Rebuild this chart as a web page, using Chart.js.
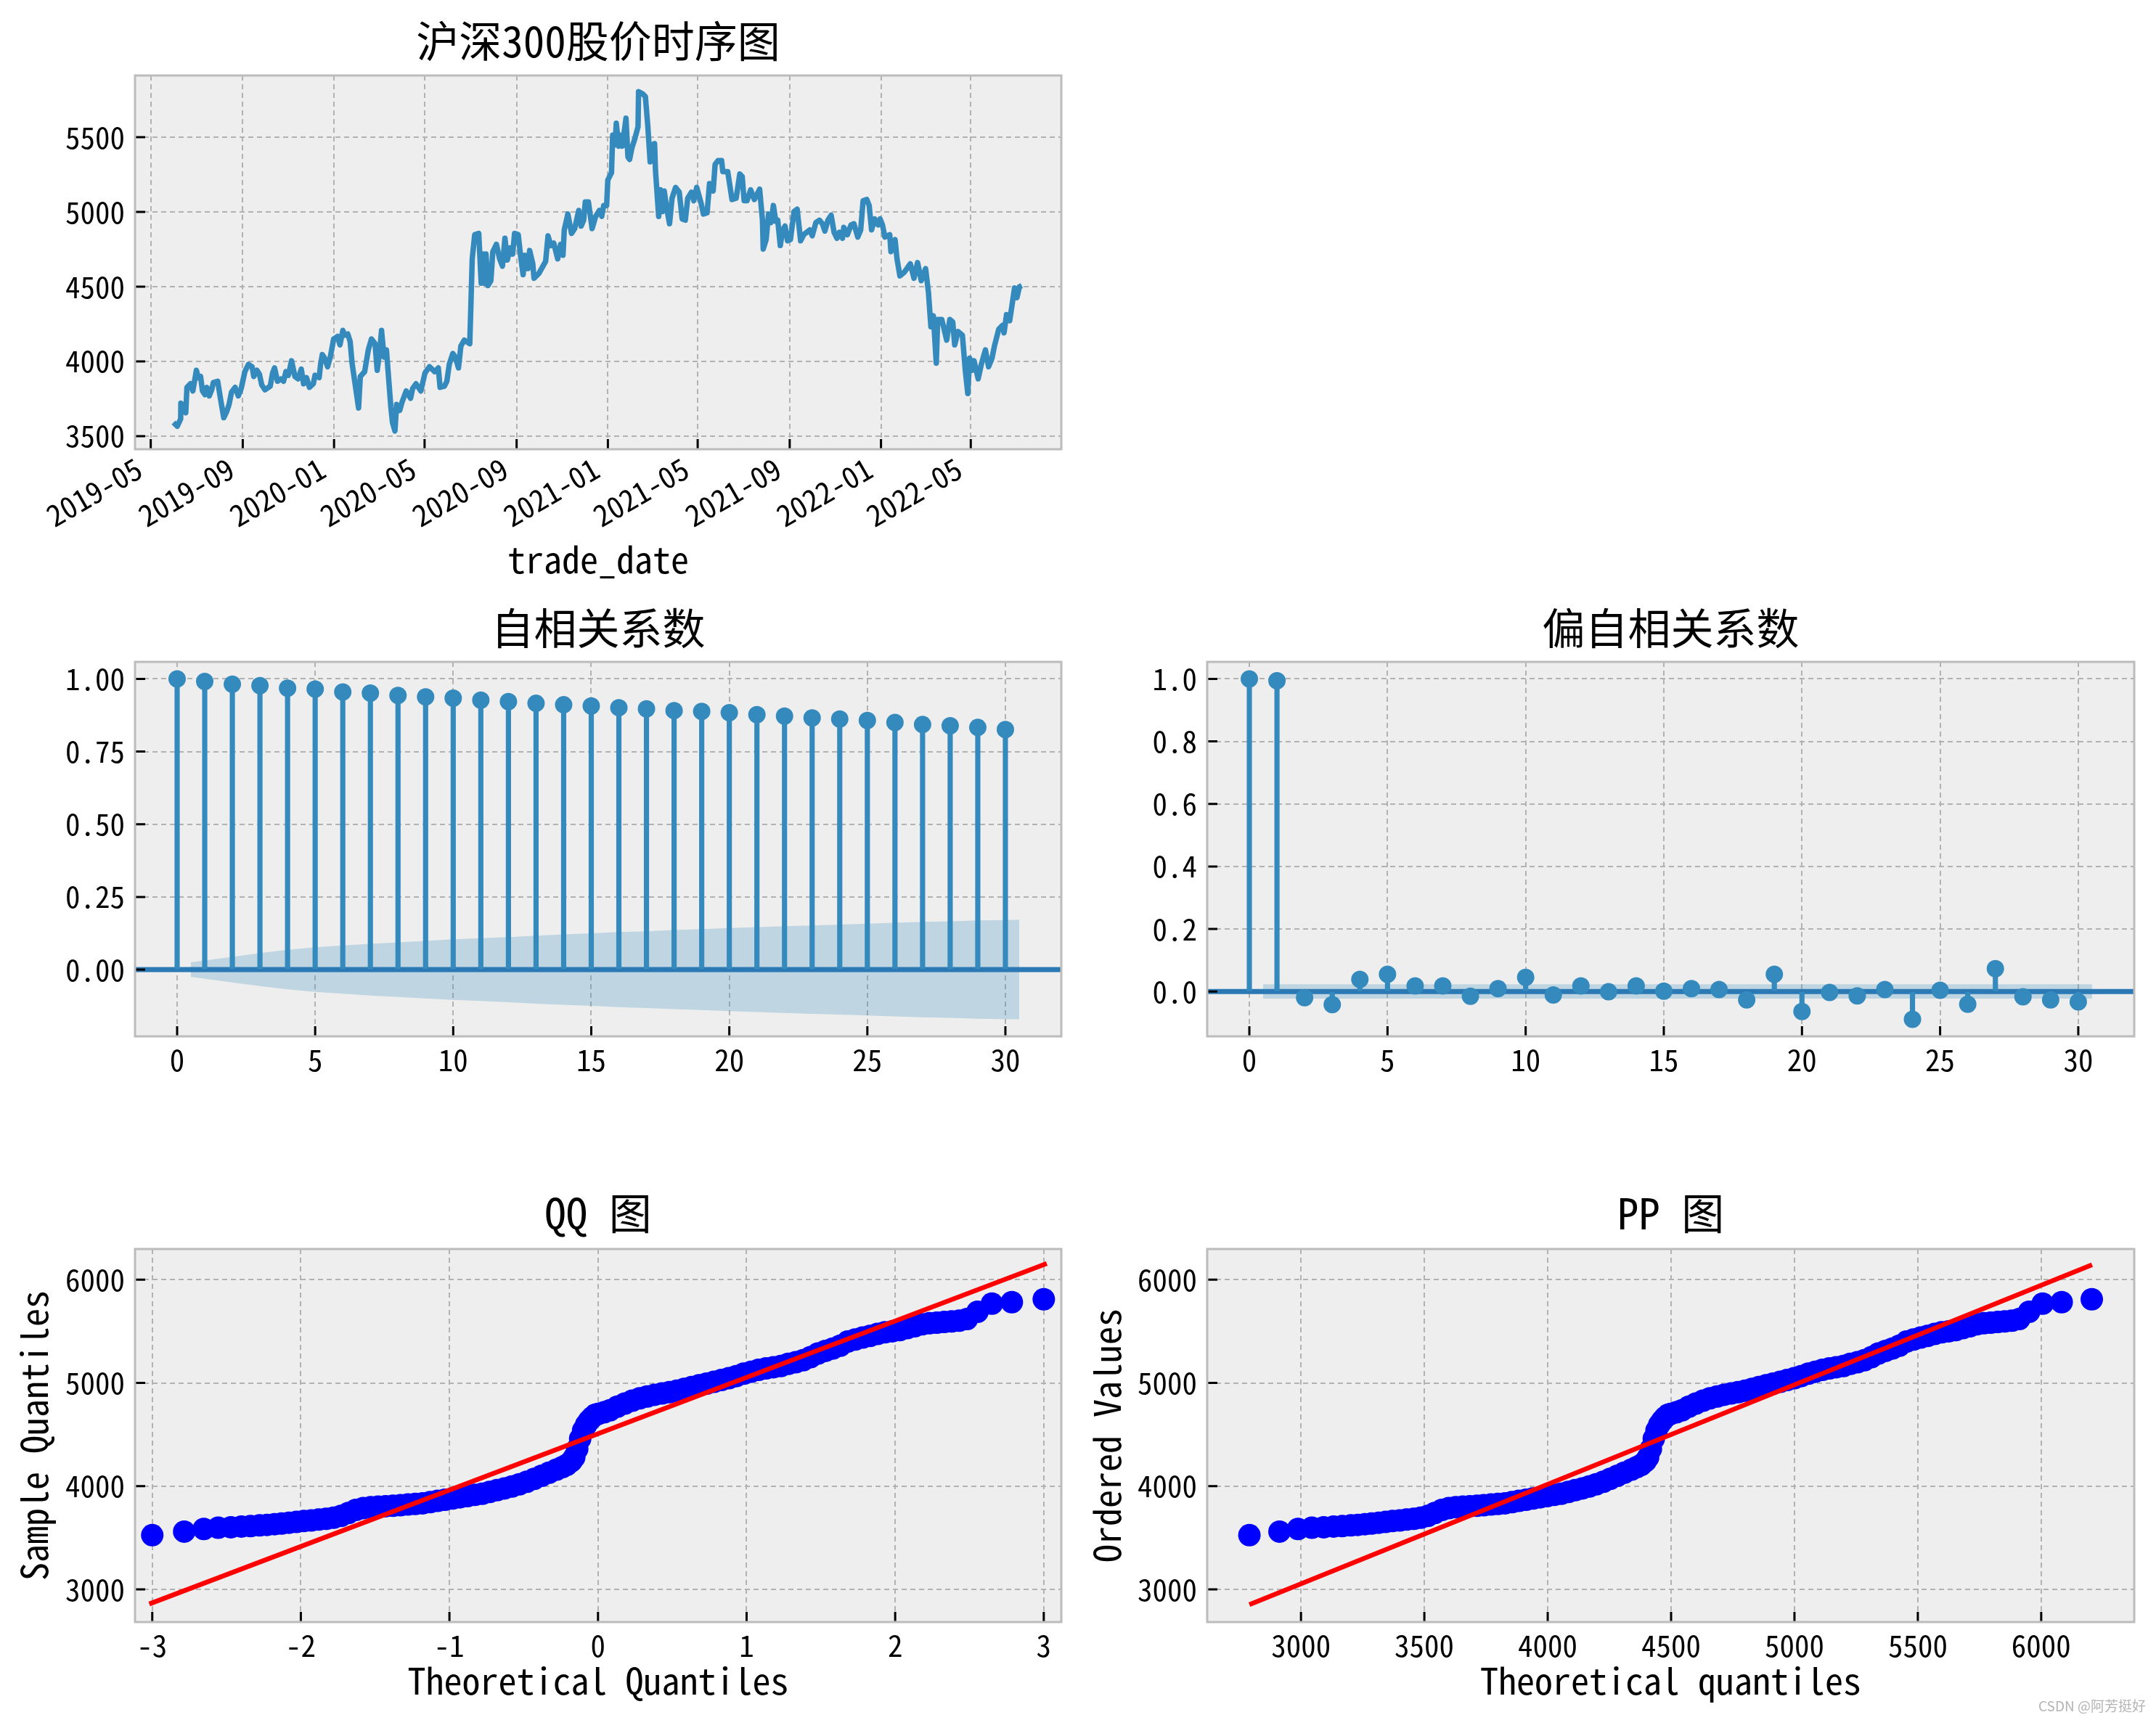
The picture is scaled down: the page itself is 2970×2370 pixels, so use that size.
<!DOCTYPE html>
<html>
<head>
<meta charset="utf-8">
<script src="https://cdn.jsdelivr.net/npm/chart.js@4.4.0/dist/chart.umd.min.js"></script>
<style>
  html, body { margin: 0; padding: 0; background: #fff; }
  body { width: 2970px; height: 2370px; position: relative; overflow: hidden; }
  canvas { position: absolute; }
  #marca { position: absolute; right: 14px; top: 2336px; font: 19px "Noto Sans CJK SC", sans-serif; color: #b4b4b4; }
</style>
</head>
<body>
<canvas id="cSerie" width="1500" height="830" style="left:0;top:0"></canvas>
<canvas id="cAcf" width="1500" height="700" style="left:0;top:780px"></canvas>
<canvas id="cPacf" width="1490" height="700" style="left:1480px;top:780px"></canvas>
<canvas id="cQQ" width="1500" height="810" style="left:0;top:1560px"></canvas>
<canvas id="cPP" width="1490" height="810" style="left:1480px;top:1560px"></canvas>
<div id="marca">CSDN @阿芳挺好</div>
<script>
// 1. DADOS
// Série do índice: dias contados a partir de 2019-05-01
const diasSerie = [30.4, 35.5, 40, 40.3, 43.5, 46.8, 48.4, 53, 56.3, 61, 63.5, 66.6, 69.2, 72.4, 75, 78.2, 81.5, 83.7, 89.5, 93.4,
  97.6, 101.5, 104.7, 108, 112.8, 117, 120.9, 125.8, 130.6, 135.5, 137.7, 142, 145.2, 148.4, 152.6, 159.7, 162.9, 165.5, 169.4, 174.3,
  177.5, 180.7, 184, 188.2, 192.7, 196.9, 201.2, 204.3, 208.2, 212.1, 217.3, 219.6, 225.1, 227, 229.3, 232.5, 236.4, 240, 244.5, 249.7,
  252.9, 256.8, 259.4, 263.3, 266.5, 269.1, 277.8, 280.1, 285.9, 290.8, 295, 299.8, 302.7, 306, 308.5, 311.8, 315, 320.9, 323.1, 326.4,
  328.6, 332.8, 336, 341.5, 347.3, 350, 354.5, 361, 366.6, 372.5, 379.6, 384.4, 386.7, 392.5, 395.8, 399, 403.8, 407.1, 411.3, 414.5,
  419.1, 426.4, 429.7, 433, 438.4, 441.7, 444.3, 445.9, 448.1, 450.7, 454.6, 457.2, 462, 466.3, 470.1, 473.4, 476.6, 480.5, 483.7, 486.3,
  491.2, 494.4, 497.7, 500, 504.2, 506.4, 510.6, 512.3, 518.7, 527.8, 531, 534.8, 538.7, 543.9, 547.8, 551, 552.7, 557.5, 562.4, 566.6,
  572.1, 575.3, 578.6, 580.8, 585, 589.9, 594.7, 599.6, 602.8, 605.4, 609.3, 610.9, 615.8, 617.4, 620.6, 622.2, 625.5, 628.1, 630.3, 635.2,
  637.8, 640, 643.3, 646.5, 651.3, 652, 657.8, 661.1, 664.3, 667.5, 670.1, 673.4, 674.6, 678.9, 681.2, 683.7, 686.3, 689.6, 693.4, 696.7,
  701.5, 706.4, 710.3, 714.5, 717.7, 722.6, 725.8, 729.7, 735.5, 738.7, 743.6, 746.8, 751.7, 754.3, 758.2, 763, 764.6, 771.1, 776.9, 782.4,
  787.3, 790.5, 793.1, 797, 801.8, 806.7, 813.8, 817.6, 818.6, 822.5, 825.7, 829, 832.2, 835.4, 838, 841.4, 844.6, 847.8, 851.1, 855,
  859.8, 864, 868.6, 872.8, 880.9, 884.1, 889, 893.8, 897.7, 901, 905.1, 909.4, 913.3, 917.2, 920.4, 924.6, 926.3, 931.1, 936, 939.8,
  945, 948.9, 952.1, 957, 960.2, 963.4, 967.6, 972.2, 974.8, 978, 981.2, 987.7, 989.3, 992.6, 994.8, 997.4, 1001.3, 1007.1, 1015.2, 1020.1,
  1024.9, 1029.8, 1035.6, 1039.5, 1042.7, 1046, 1049.9, 1051.8, 1057.3, 1063.8, 1068, 1071.9, 1074.5, 1079, 1084.8, 1088.7, 1092, 1094.5, 1097.8, 1100.4,
  1105.9, 1110.1, 1115.6, 1119.8, 1124.4, 1127.6, 1133.4, 1138.3, 1140.5, 1143.8, 1148, 1151.2, 1154.5, 1157.7, 1161, 1164.2];
const fechamento = [3591, 3566, 3615, 3720, 3696, 3656, 3826, 3850, 3802, 3940, 3891, 3899, 3802, 3777, 3826, 3769, 3810, 3858, 3867, 3745,
  3623, 3664, 3712, 3794, 3826, 3769, 3818, 3931, 3980, 3964, 3899, 3940, 3915, 3842, 3810, 3834, 3923, 3956, 3867, 3883,
  3867, 3931, 3907, 4004, 3899, 3883, 3948, 3850, 3891, 3826, 3850, 3907, 3891, 3980, 4045, 4021, 3964, 4029, 4150, 4167,
  4110, 4207, 4175, 4183, 4134, 3988, 3688, 3899, 3931, 4077, 4150, 4118, 3940, 4069, 4207, 4029, 4077, 3696, 3591, 3534,
  3712, 3672, 3729, 3802, 3753, 3818, 3850, 3802, 3923, 3964, 3931, 3956, 3826, 3834, 3867, 3980, 4053, 4029, 3956, 4102,
  4142, 4118, 4686, 4848, 4856, 4523, 4718, 4523, 4718, 4507, 4540, 4734, 4783, 4686, 4637, 4824, 4678, 4759, 4718, 4856,
  4848, 4702, 4580, 4710, 4621, 4742, 4653, 4556, 4588, 4669, 4840, 4775, 4791, 4686, 4783, 4710, 4880, 4986, 4856, 4888,
  5010, 4905, 4945, 5067, 5067, 4888, 4970, 5010, 4970, 5043, 5043, 5213, 5262, 5513, 5448, 5594, 5440, 5513, 5440, 5627,
  5367, 5351, 5432, 5481, 5570, 5805, 5789, 5772, 5578, 5335, 5448, 5457, 5278, 4970, 5148, 5002, 5140, 5026, 4921, 5091,
  5164, 5132, 4953, 4945, 5091, 5132, 5075, 5164, 5059, 4986, 4994, 5189, 5140, 5318, 5343, 5343, 5270, 5270, 5083, 5091,
  5254, 5237, 5075, 5075, 5148, 5083, 5152, 4945, 4751, 4815, 4986, 4929, 5043, 4937, 4945, 4775, 4880, 4905, 4807, 4815,
  5002, 5018, 4807, 4848, 4880, 4840, 4929, 4945, 4921, 4872, 4945, 4978, 4864, 4824, 4864, 4824, 4897, 4848, 4913, 4921,
  4832, 4880, 5075, 5083, 5043, 4880, 4953, 4913, 4953, 4913, 4832, 4848, 4734, 4783, 4815, 4686, 4572, 4596, 4653, 4556,
  4661, 4540, 4621, 4459, 4232, 4305, 3988, 4280, 4280, 4142, 4280, 4264, 4110, 4199, 4175, 3940, 3785, 4021, 3940, 4004,
  3883, 3980, 4077, 3964, 4021, 4102, 4215, 4240, 4191, 4313, 4272, 4378, 4491, 4426, 4499, 4507];
const diasTicks = [0, 123, 245, 366, 489, 611, 731, 854, 976, 1096];
const rotulosDatas = ['2019-05', '2019-09', '2020-01', '2020-05', '2020-09', '2021-01', '2021-05', '2021-09', '2022-01', '2022-05'];
const ticksSerieY = [3500, 4000, 4500, 5000, 5500];

// Autocorrelação e autocorrelação parcial
const lags = [0, 1, 2, 3, 4, 5, 6, 7, 8, 9, 10, 11, 12, 13, 14, 15, 16, 17, 18, 19, 20, 21, 22, 23, 24, 25, 26, 27, 28, 29, 30];
const acf = [1.000, 0.991, 0.982, 0.977, 0.968, 0.965, 0.955, 0.951, 0.943, 0.938, 0.934, 0.927, 0.922, 0.916, 0.911, 0.907,
  0.901, 0.897, 0.891, 0.888, 0.884, 0.877, 0.872, 0.866, 0.862, 0.857, 0.850, 0.843, 0.839, 0.833, 0.826];
const pacf = [1.000, 0.994, -0.020, -0.042, 0.039, 0.055, 0.018, 0.018, -0.015, 0.009, 0.045, -0.011, 0.018, -0.001, 0.018, 0.001,
  0.009, 0.006, -0.027, 0.055, -0.064, -0.003, -0.014, 0.006, -0.089, 0.004, -0.041, 0.073, -0.017, -0.027, -0.033];
const lagsBanda = [0.5, 2, 3, 4, 5, 6, 7, 8, 9, 10, 11, 12, 13, 14, 15, 16, 17, 18, 19, 20, 21, 22, 23, 24, 25, 26, 27, 28, 29, 30.5];
const bandaAcf = [0.025, 0.044, 0.057, 0.068, 0.077, 0.083, 0.089, 0.094, 0.099, 0.104, 0.108, 0.112, 0.117, 0.121, 0.125,
  0.129, 0.132, 0.136, 0.139, 0.143, 0.146, 0.149, 0.152, 0.155, 0.158, 0.161, 0.164, 0.166, 0.169, 0.171];
const lagsBandaPacf = [0.5, 30.5];
const bandaPacf = [0.023, 0.023];
const ticksLag = [0, 5, 10, 15, 20, 25, 30];
const ticksAcfY = [0, 0.25, 0.5, 0.75, 1];
const ticksPacfY = [0, 0.2, 0.4, 0.6, 0.8, 1];

// QQ / PP
const qqTeorico = [-3.0, -2.785, -2.653, -2.556, -2.471, -2.4, -2.339, -2.278, -2.228, -2.177, -2.13, -2.08, -2.03, -1.98, -1.93,
  -1.88, -1.83, -1.78, -1.73, -1.68, -1.63, -1.58, -1.53, -1.48, -1.43, -1.38, -1.33, -1.28, -1.23, -1.18, -1.13, -1.08, -1.03,
  -0.98, -0.93, -0.88, -0.83, -0.78, -0.73, -0.68, -0.63, -0.58, -0.53, -0.48, -0.43, -0.38, -0.33, -0.28, -0.24, -0.21, -0.18,
  -0.16, -0.14, -0.12, -0.10, -0.08, -0.06, -0.04, -0.02, 0.0, 0.04, 0.08, 0.13, 0.18, 0.23, 0.28, 0.33, 0.38, 0.43, 0.48, 0.53,
  0.58, 0.63, 0.68, 0.73, 0.78, 0.83, 0.88, 0.93, 0.98, 1.03, 1.08, 1.13, 1.18, 1.23, 1.28, 1.33, 1.38, 1.43, 1.48, 1.53, 1.58,
  1.63, 1.68, 1.73, 1.78, 1.83, 1.88, 1.93, 1.98, 2.03, 2.08, 2.13, 2.18, 2.23, 2.28, 2.33, 2.38, 2.43, 2.483, 2.554, 2.651, 2.785, 3.0];
const qqAmostra = [3525, 3560, 3586, 3597, 3602, 3609, 3614, 3621, 3625, 3632, 3638, 3646, 3654, 3662, 3668,
  3676, 3684, 3694, 3712, 3740, 3770, 3788, 3796, 3802, 3806, 3810, 3815, 3822, 3828, 3834, 3845, 3857, 3869,
  3880, 3892, 3904, 3915, 3927, 3944, 3962, 3978, 3996, 4018, 4042, 4070, 4100, 4130, 4160, 4185, 4205, 4240,
  4280, 4360, 4460, 4540, 4595, 4635, 4665, 4690, 4700, 4715, 4735, 4770, 4800, 4828, 4850, 4868, 4885, 4898, 4910, 4925,
  4942, 4960, 4977, 4993, 5010, 5028, 5045, 5066, 5090, 5108, 5126, 5140, 5152, 5163, 5185, 5200, 5220, 5250, 5285, 5310, 5333,
  5360, 5400, 5420, 5440, 5455, 5475, 5490, 5500, 5512, 5530, 5548, 5568, 5578, 5584, 5590, 5596, 5603, 5618, 5689, 5768, 5782, 5810];
const ppTeorico = [2791, 2913, 2988, 3044, 3092, 3132, 3167, 3202, 3230, 3259, 3286, 3315, 3343, 3371, 3400,
  3428, 3457, 3485, 3514, 3542, 3571, 3599, 3627, 3656, 3684, 3713, 3741, 3770, 3798, 3827, 3855, 3883, 3912,
  3940, 3969, 3997, 4026, 4054, 4083, 4111, 4140, 4168, 4196, 4225, 4253, 4282, 4310, 4339, 4361, 4379, 4396,
  4407, 4418, 4430, 4441, 4452, 4464, 4475, 4487, 4498, 4521, 4544, 4572, 4600, 4629, 4657, 4686, 4714, 4743, 4771, 4800,
  4828, 4856, 4885, 4913, 4942, 4970, 4999, 5027, 5056, 5084, 5113, 5141, 5169, 5198, 5226, 5255, 5283, 5312, 5340, 5369, 5397,
  5425, 5454, 5482, 5511, 5539, 5568, 5596, 5625, 5653, 5682, 5710, 5738, 5767, 5795, 5824, 5852, 5881, 5911, 5951, 6006, 6083, 6205];
const retaQQx = [-3.02, 3.02];
const retaQQy = [2859, 6157];
const retaPPx = [2791, 6206];
const retaPPy = [2852, 6144];
const ticksQQx = [-3, -2, -1, 0, 1, 2, 3];
const ticksPPx = [3000, 3500, 4000, 4500, 5000, 5500, 6000];
const ticksQQy = [3000, 4000, 5000, 6000];

// 2. ESTILO
const FONTE = '"Noto Sans Mono CJK SC", "Noto Sans CJK SC", "DejaVu Sans", sans-serif';
const AZUL = '#348ABD';
const AZUL_ZERO = '#2a79b5';
Chart.defaults.color = '#000';
Chart.defaults.font.family = FONTE;

// fundo cinza, moldura e tiques para dentro (estilo bmh)
const moldura = {
    id: 'moldura',
    beforeDraw(chart) {
        const { ctx, chartArea: a } = chart;
        ctx.save();
        ctx.fillStyle = '#eeeeee';
        ctx.fillRect(a.left, a.top, a.width, a.height);
        ctx.restore();
    },
    afterDraw(chart) {
        const { ctx, chartArea: a, scales } = chart;
        ctx.save();
        ctx.strokeStyle = '#000';
        ctx.lineWidth = 3;
        ctx.beginPath();
        scales.x.ticks.forEach(t => {
            const px = scales.x.getPixelForValue(t.value);
            ctx.moveTo(px, a.bottom); ctx.lineTo(px, a.bottom - 14);
        });
        scales.y.ticks.forEach(t => {
            const py = scales.y.getPixelForValue(t.value);
            ctx.moveTo(a.left, py); ctx.lineTo(a.left + 14, py);
        });
        ctx.stroke();
        ctx.strokeStyle = '#bcbcbc';
        ctx.lineWidth = 3;
        ctx.strokeRect(a.left, a.top, a.width, a.height);
        ctx.restore();
    }
};

function escala(lim, valores, formato) {
    return {
        type: 'linear', min: lim[0], max: lim[1], offset: false,
        afterBuildTicks: s => { s.ticks = valores.map(v => ({ value: v })); },
        grid: { color: '#b2b2b2', lineWidth: 2, drawTicks: false, offset: false },
        border: { display: false, dash: [7, 5] },
        ticks: { font: { size: 41 }, padding: 14, autoSkip: false, maxRotation: 0, minRotation: 0, callback: formato }
    };
}

function titulo(texto, topo, base) {
    return { display: true, text: texto, fullSize: false, color: '#000',
             font: { size: 59, weight: 'normal' }, padding: { top: topo, bottom: base } };
}

function opcoes(x, y, tit, direita) {
    return {
        responsive: false, animation: false, devicePixelRatio: 1, events: [],
        layout: { padding: { left: 0, right: direita, top: 0, bottom: 0 } },
        plugins: { legend: { display: false }, tooltip: { enabled: false }, title: tit },
        scales: { x: x, y: y }
    };
}

const inteiro = v => String(v);

// 3. GRÁFICO DA SÉRIE
(function () {
    const x = escala([-21, 1217], diasTicks, v => rotulosDatas[diasTicks.indexOf(v)]);
    x.ticks.maxRotation = 30; x.ticks.minRotation = 30; x.ticks.padding = 2; x.ticks.labelOffset = -16;
    x.title = { display: true, text: 'trade_date', font: { size: 50 }, padding: { top: 0, bottom: 29 } };
    x.afterFit = s => { s.height = 211; };
    const y = escala([3412, 5913], ticksSerieY, inteiro);
    y.afterFit = s => { s.width = 186; };
    new Chart(document.getElementById('cSerie'), {
        type: 'line',
        data: { datasets: [{
            data: diasSerie.map((d, i) => ({ x: d, y: fechamento[i] })),
            borderColor: AZUL, borderWidth: 7.5, pointRadius: 0, tension: 0, borderJoinStyle: 'round'
        }] },
        options: opcoes(x, y, titulo('沪深300股价时序图', 21.6, 11.6), 38),
        plugins: [moldura]
    });
})();

// 4. ACF / PACF
function graficoCorrelacao(id, valores, lagsB, banda, limY, ticksY, casas, tit, esquerda, direita) {
    const limX = [-1.525, 32.025];
    const x = escala(limX, ticksLag, inteiro);
    x.ticks.padding = 8;
    x.afterFit = s => { s.height = 52; };
    const y = escala(limY, ticksY, v => v.toFixed(casas));
    y.afterFit = s => { s.width = esquerda; };
    const pontos = lags.map((l, i) => ({ x: l, y: valores[i] }));
    new Chart(document.getElementById(id), {
        type: 'scatter',
        data: { datasets: [
            { data: pontos, pointRadius: 12, backgroundColor: AZUL, borderWidth: 0 },
            { type: 'bar', data: pontos, backgroundColor: AZUL, barThickness: 6.5, borderWidth: 0 },
            { type: 'line', data: [{ x: limX[0], y: 0 }, { x: limX[1], y: 0 }], borderColor: AZUL_ZERO, borderWidth: 7, pointRadius: 0 },
            { type: 'line', data: lagsB.map((l, i) => ({ x: l, y: banda[i] })), borderColor: 'transparent', borderWidth: 0, pointRadius: 0, fill: false },
            { type: 'line', data: lagsB.map((l, i) => ({ x: l, y: -banda[i] })), borderColor: 'transparent', borderWidth: 0, pointRadius: 0,
              fill: '-1', backgroundColor: 'rgba(52,138,189,0.25)' }
        ] },
        options: opcoes(x, y, tit, direita),
        plugins: [moldura]
    });
}
graficoCorrelacao('cAcf', acf, lagsBanda, bandaAcf, [-0.2296, 1.0586], ticksAcfY, 2, titulo('自相关系数', 50.6, 10.6), 186, 38);
graficoCorrelacao('cPacf', pacf, lagsBandaPacf, bandaPacf, [-0.1435, 1.0545], ticksPacfY, 1, titulo('偏自相关系数', 50.6, 10.6), 183, 30);

// 5. QQ / PP
function graficoProb(id, teorico, reta, limX, ticksX, tit, rotX, rotY, padY, esquerda, direita) {
    const x = escala(limX, ticksX, inteiro);
    x.ticks.padding = 8;
    x.title = { display: true, text: rotX, font: { size: 50 }, padding: { top: 0, bottom: 24 } };
    x.afterFit = s => { s.height = 135; };
    const y = escala([2684, 6297], ticksQQy, inteiro);
    y.title = { display: true, text: rotY, font: { size: 50 }, padding: { top: padY, bottom: 0 } };
    y.afterFit = s => { s.width = esquerda; };
    new Chart(document.getElementById(id), {
        type: 'scatter',
        data: { datasets: [
            { type: 'line', data: [{ x: reta[0][0], y: reta[1][0] }, { x: reta[0][1], y: reta[1][1] }],
              borderColor: '#ff0000', borderWidth: 6.5, pointRadius: 0 },
            { data: teorico.map((t, i) => ({ x: t, y: qqAmostra[i] })), pointRadius: 15.5, backgroundColor: '#0000ff', borderWidth: 0 }
        ] },
        options: opcoes(x, y, tit, direita),
        plugins: [moldura]
    });
}
graficoProb('cQQ', qqTeorico, [retaQQx, retaQQy], [-3.116, 3.118], ticksQQx, titulo('QQ 图', 76.6, 13.6),
    'Theoretical Quantiles', 'Sample Quantiles', 17, 186, 38);
graficoProb('cPP', ppTeorico, [retaPPx, retaPPy], [2620, 6377], ticksPPx, titulo('PP 图', 76.6, 13.6),
    'Theoretical quantiles', 'Ordered Values', 15, 183, 30);
</script>
</body>
</html>
